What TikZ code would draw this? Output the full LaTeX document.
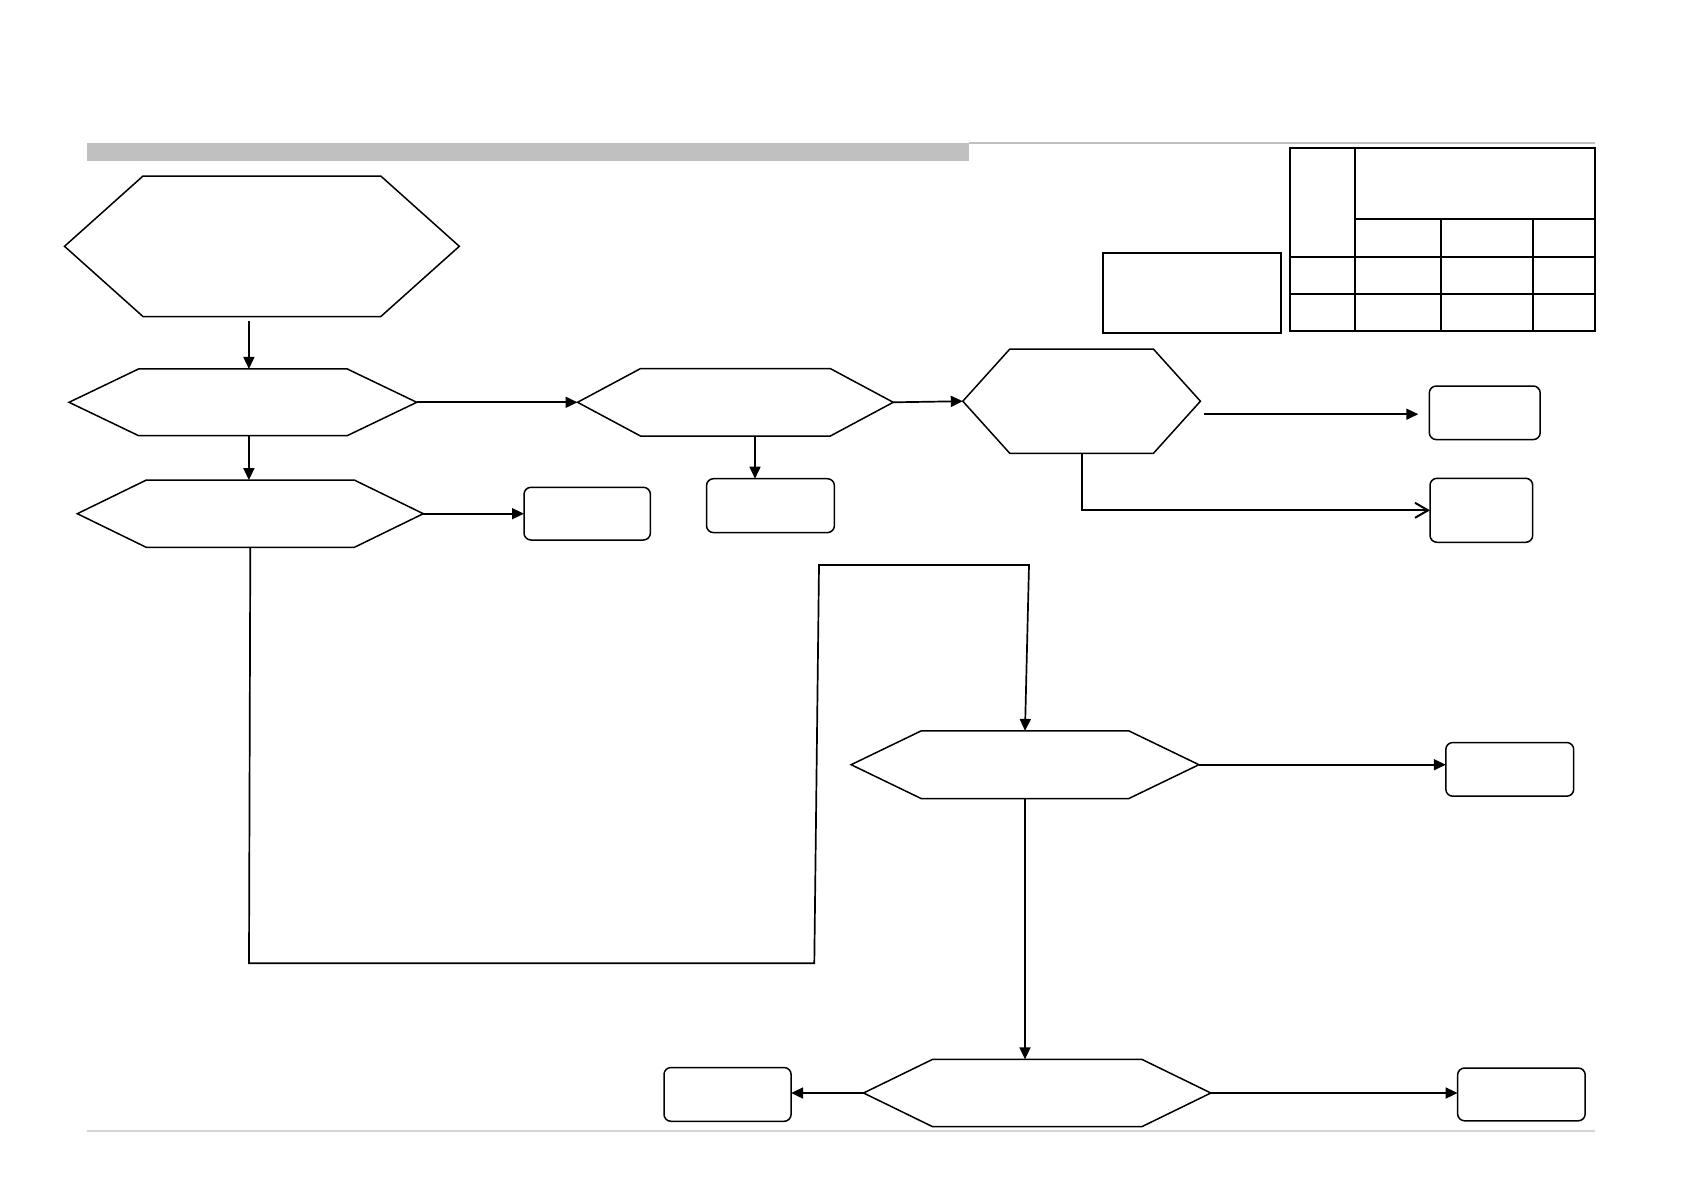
\documentclass[tikz,border=0pt]{standalone}
\usetikzlibrary{arrows.meta,calc}
\definecolor{barcol}{RGB}{192,192,192}
\definecolor{rulecol}{RGB}{212,212,212}
\tikzset{
  hexbox/.style={draw=none,shape=rectangle,inner sep=0pt,outer sep=0pt},
  hexline/.style={draw=black,line width=1.5pt,line join=miter},
  rbox/.style={draw=black,line width=1.5pt,rounded corners=7pt,inner sep=0pt,outer sep=0pt,shape=rectangle},
  sbox/.style={draw=black,line width=2.2pt,inner sep=0pt,outer sep=0pt,shape=rectangle},
  tabline/.style={draw=black,line width=2.2pt},
  conn/.style={draw=black,line width=1.7pt},
  arr/.style={conn,-{Triangle[length=12pt,width=11pt]}},
  openarr/.style={draw=black,line width=2pt,-{Straight Barb[length=13pt,width=15pt,line width=2pt]}},
}
\newcommand\hexnode[6]{%
  \node[hexbox,minimum width=#4pt,minimum height=#5pt] (#1) at (#2,#3) {};
  \draw[hexline] (#1.west) -- ([xshift=#6pt]#1.north west) -- ([xshift=-#6pt]#1.north east)
    -- (#1.east) -- ([xshift=-#6pt]#1.south east) -- ([xshift=#6pt]#1.south west) -- cycle;}
\newcommand\rboxnode[5]{%
  \node[rbox,minimum width=#4pt,minimum height=#5pt] (#1) at (#2,#3) {};}
\begin{document}
\begin{tikzpicture}[x=1pt,y=-1pt]
\useasboundingbox (0,0) rectangle (1683,1191);
% header bar and rules
\fill[barcol] (87,143) rectangle (969,161);
\draw[barcol,line width=2pt] (969,143) -- (1595,143);
\draw[rulecol,line width=1.4pt] (87,1131) -- (1595,1131);
% hexagons
\hexnode{hexa}{261.9}{246.3}{394.8}{140.5}{78.5}
\hexnode{hexb}{242.9}{402.3}{347.7}{66.7}{69.5}
\hexnode{hexc}{250.3}{513.7}{346}{67.3}{69}
\hexnode{hexd}{735.4}{402.3}{315.7}{67.5}{63}
\hexnode{hexf}{1081.6}{401.2}{237.6}{104.3}{47}
\hexnode{hexe}{1025}{764.7}{347.8}{67.6}{70}
\hexnode{hexg}{1037.2}{1093}{347.3}{67.3}{69}
% rounded boxes
\rboxnode{boxA}{587.2}{513.65}{126.4}{52.7}
\rboxnode{boxB}{770.45}{505.65}{127.9}{53.9}
\rboxnode{boxE}{1484.75}{412.8}{110.9}{53.6}
\rboxnode{boxF}{1481.35}{510.3}{102.7}{64}
\rboxnode{boxG}{1509.75}{769.35}{127.9}{53.7}
\rboxnode{boxH}{727.55}{1094.4}{127.1}{53.8}
\rboxnode{boxI}{1521.4}{1094.4}{127.6}{52.8}
% plain rectangle
\node[sbox,minimum width=178pt,minimum height=80pt] (boxR) at (1192,292.7) {};
% table
\coordinate (tnw) at (1290,148);
\coordinate (tse) at (1595,330.7);
\draw[tabline] (tnw) rectangle (tse);
\draw[tabline] (1355,148) -- (1355,330.7);
\draw[tabline] (1355,219.3) -- (1595,219.3);
\draw[tabline] (1290,256.7) -- (1595,256.7);
\draw[tabline] (1290,294) -- (1595,294);
\draw[tabline] (1441,219.3) -- (1441,330.7);
\draw[tabline] (1532.7,219.3) -- (1532.7,330.7);
% connectors
\draw[arr] ([xshift=-13pt,yshift=-4.5pt]hexa.south) -- ([xshift=-13pt]hexa.south |- hexb.north);
\draw[arr] ([xshift=6pt]hexb.south) -- ([xshift=6pt]hexb.south |- hexc.north);
\draw[arr] (hexb.east) -- (hexd.west);
\draw[arr] (hexc.east) -- (hexc.east -| boxA.west);
\draw[arr] ([xshift=19.6pt]hexd.south) -- ([xshift=19.6pt]hexd.south |- boxB.north);
\draw[arr] (hexd.east) -- (hexf.west);
\coordinate (eS) at ([xshift=4pt,yshift=-13pt]hexf.east);
\draw[arr] (eS) -- ([xshift=-11pt]eS -| boxE.west);
\draw[openarr] (hexf.south) |- (boxF.west);
\draw[arr] (hexe.east) -- (hexe.east -| boxG.west);
\draw[arr] (hexe.south) -- (hexe.south |- hexg.north);
\draw[arr] (hexg.west) -- (hexg.west -| boxH.east);
\draw[arr] (hexg.east) -- (hexg.east -| boxI.west);
\coordinate (k1) at (249,963.3);
\coordinate (k2) at (814.3,963.3);
\coordinate (k3) at (819,565);
\coordinate (k4) at (1029,565);
\draw[arr] (hexc.south) -- (k1) -- (k2) -- (k3) -- (k4) -- (hexe.north);
\end{tikzpicture}
\end{document}
